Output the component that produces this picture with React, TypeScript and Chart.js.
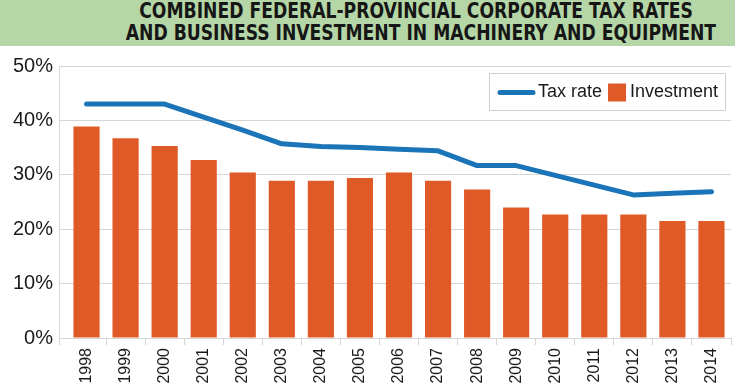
import React, { useEffect, useRef } from "react";
import { Chart, registerables } from "chart.js";

Chart.register(...registerables);

const years = ["1998", "1999", "2000", "2001", "2002", "2003", "2004", "2005", "2006", "2007", "2008", "2009", "2010", "2011", "2012", "2013", "2014"];
const taxRate = [43.0, 43.0, 43.0, 40.6, 38.2, 35.7, 35.2, 35.0, 34.7, 34.4, 31.7, 31.7, 29.9, 28.1, 26.3, 26.6, 26.9];
const investment = [38.9, 36.7, 35.3, 32.7, 30.4, 28.9, 28.9, 29.4, 30.4, 28.9, 27.3, 24.0, 22.7, 22.7, 22.7, 21.5, 21.5];
const titleLines = ["COMBINED FEDERAL-PROVINCIAL CORPORATE TAX RATES", "AND BUSINESS INVESTMENT IN MACHINERY AND EQUIPMENT"];
const seriesNames = ["Tax rate", "Investment"];
const yMin = 0;
const yMax = 50;
const yStep = 10;

const FONT = '"Liberation Sans", Arial, sans-serif';
const GRID = "#d6d6d6";
const BLUE = "#1b74b8";
const ORANGE = "#e05a28";

const leftLinePlugin = {
  id: "leftLine",
  afterDraw(chart: any) {
    const { ctx, chartArea } = chart;
    ctx.save();
    ctx.strokeStyle = GRID;
    ctx.lineWidth = 1;
    const x = Math.round(chartArea.left - 8) + 0.5;
    ctx.beginPath();
    ctx.moveTo(x, chartArea.top);
    ctx.lineTo(x, chartArea.bottom + 7);
    ctx.stroke();
    ctx.restore();
  },
};

const boxLegendPlugin = {
  id: "boxLegend",
  afterDraw(chart: any) {
    const { ctx, chartArea } = chart;
    const ds = chart.data.datasets;
    ctx.save();
    const right = chartArea.right - 6;
    const w = 236;
    const h = 37;
    const left = right - w;
    const top = chartArea.top + 7;
    ctx.fillStyle = "#ffffff";
    ctx.fillRect(left, top, w, h);
    ctx.strokeStyle = "#cfcfcf";
    ctx.lineWidth = 1;
    ctx.strokeRect(Math.round(left) + 0.5, Math.round(top) + 0.5, w, h);
    const cy = top + h / 2 + 1;
    ctx.font = `18px ${FONT}`;
    ctx.textBaseline = "middle";
    ctx.textAlign = "left";
    let x = left + 11;
    ctx.strokeStyle = ds[0].borderColor;
    ctx.lineWidth = 5;
    ctx.lineCap = "round";
    ctx.beginPath();
    ctx.moveTo(x, cy);
    ctx.lineTo(x + 33, cy);
    ctx.stroke();
    x += 38;
    ctx.fillStyle = "#1a1a1a";
    ctx.fillText(ds[0].label, x, cy);
    x += ctx.measureText(ds[0].label).width + 6;
    ctx.fillStyle = ds[1].backgroundColor;
    ctx.fillRect(x, cy - 9, 18, 18);
    x += 22;
    ctx.fillStyle = "#1a1a1a";
    ctx.fillText(ds[1].label, x, cy);
    ctx.restore();
  },
};

export default function App() {
  const ref = useRef<HTMLCanvasElement | null>(null);

  useEffect(() => {
    if (!ref.current) return;
    const chart = new Chart(ref.current, {
      type: "bar",
      data: {
        labels: years,
        datasets: [
          {
            type: "line",
            label: seriesNames[0],
            data: taxRate,
            borderColor: BLUE,
            backgroundColor: BLUE,
            borderWidth: 5,
            pointRadius: 0,
            borderCapStyle: "round",
            borderJoinStyle: "round",
            tension: 0,
            order: 0,
          } as any,
          {
            type: "bar",
            label: seriesNames[1],
            data: investment,
            backgroundColor: ORANGE,
            borderWidth: 0,
            categoryPercentage: 1,
            barPercentage: 0.67,
            order: 1,
          } as any,
        ],
      },
      options: {
        responsive: false,
        animation: false,
        devicePixelRatio: 1,
        layout: { padding: { top: 20, right: 4, left: 0, bottom: 0 } },
        plugins: {
          legend: { display: false },
          title: { display: false },
          tooltip: { enabled: false },
        },
        scales: {
          x: {
            offset: true,
            grid: {
              drawOnChartArea: false,
              drawTicks: true,
              tickLength: 7,
              color: (c: any) => (c.index === 0 ? "rgba(0,0,0,0)" : GRID),
            },
            border: { display: true, color: GRID },
            ticks: {
              autoSkip: false,
              minRotation: 90,
              maxRotation: 90,
              padding: 3,
              color: "#1a1a1a",
              font: { family: FONT, size: 16 },
            },
            afterFit: (s: any) => {
              s.height = 46;
            },
          },
          y: {
            min: yMin,
            max: yMax,
            grid: { color: GRID, tickLength: 8, drawTicks: true },
            border: { display: false },
            ticks: {
              stepSize: yStep,
              padding: 6,
              color: "#1a1a1a",
              font: { family: FONT, size: 20 },
              callback: (v: any) => `${v}%`,
            },
            afterFit: (s: any) => {
              s.width = 67;
            },
          },
        },
      },
      plugins: [leftLinePlugin, boxLegendPlugin],
    });
    return () => chart.destroy();
  }, []);

  return (
    <div style={{ position: "fixed", left: 0, top: 0, width: 735, height: 384, overflow: "hidden", background: "#ffffff" }}>
      <div
        style={{
          position: "absolute",
          left: 0,
          top: 0,
          width: 735,
          height: 46,
          background: "#b5d6a6",
        }}
      >
        <div
          style={{
            position: "absolute",
            left: 97,
            width: 638,
            top: 0,
            textAlign: "center",
            fontFamily: '"Liberation Sans Narrow", "DejaVu Sans Condensed", "Liberation Sans", sans-serif',
            fontStretch: "condensed",
            fontWeight: "bold",
            fontSize: 21,
            lineHeight: "22px",
            color: "#161616",
            whiteSpace: "nowrap",
            transform: "scaleX(0.91)",
            transformOrigin: "center",
          }}
        >
          {titleLines.map((t) => (
            <div key={t}>{t}</div>
          ))}
        </div>
      </div>
      <div style={{ position: "absolute", left: 0, top: 46, width: 735, height: 338 }}>
        <canvas ref={ref} width={735} height={338} />
      </div>
    </div>
  );
}
